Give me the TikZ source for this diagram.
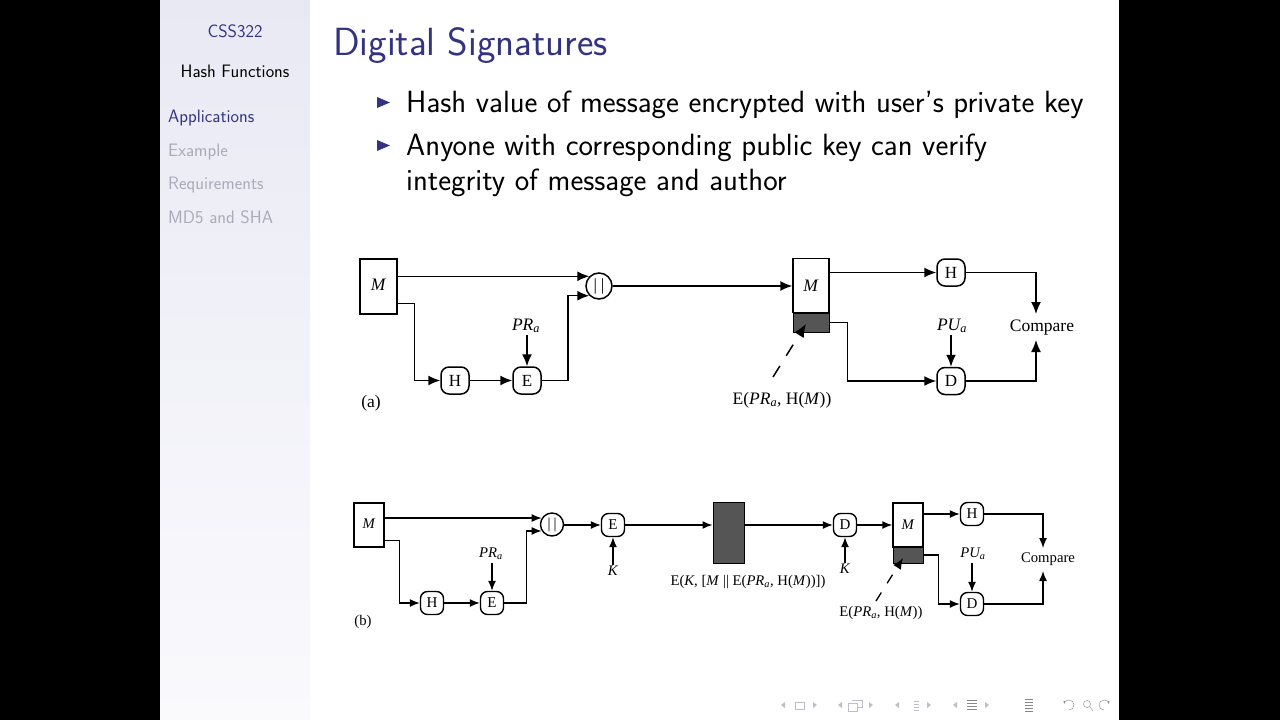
\documentclass[tikz,border=0pt]{standalone}
\usepackage{fontspec}
\usetikzlibrary{arrows.meta}
\newfontfamily\figfont{Liberation Serif}
\definecolor{navy}{RGB}{51,51,127}
\definecolor{fade}{RGB}{170,170,185}
\definecolor{sig}{RGB}{85,85,85}
\definecolor{nav}{RGB}{190,190,200}
\definecolor{sidetop}{RGB}{233,233,244}
\definecolor{sidelow}{RGB}{250,250,253}
\tikzset{
  wire/.style={line width=1.5pt,-{Latex[length=12pt,width=10pt]}},
  wireb/.style={line width=1.4pt,-{Latex[length=10pt,width=8pt]}},
  plain/.style={line width=1.5pt},
  msg/.style={draw,line width=1.4pt,fill=white,inner sep=0pt},
  sigbox/.style={draw,line width=1pt,fill=sig,inner sep=0pt},
  fnA/.style={draw,line width=1.5pt,rounded corners=8pt,minimum width=28pt,minimum height=27pt,inner sep=0pt,font=\figfont\fontsize{17}{20}\selectfont},
  fnB/.style={draw,line width=1.4pt,rounded corners=7pt,minimum width=23pt,minimum height=23pt,inner sep=0pt,font=\figfont\fontsize{15}{18}\selectfont},
  catA/.style={draw,circle,line width=1.5pt,minimum size=26pt,inner sep=0pt,font=\figfont\fontsize{17}{20}\selectfont},
  catB/.style={draw,circle,line width=1.4pt,minimum size=23pt,inner sep=0pt,font=\figfont\fontsize{15}{18}\selectfont},
  labA/.style={inner sep=0pt,font=\figfont\fontsize{17.5}{20}\selectfont},
  labB/.style={inner sep=0pt,font=\figfont\fontsize{14.7}{18}\selectfont},
  body/.style={anchor=base west,inner sep=0pt,font=\sffamily\fontsize{30.7}{36}\selectfont},
  side/.style={anchor=west,inner sep=0pt,text=fade,font=\sffamily\fontsize{18}{22}\selectfont},
  tick/.style={fill=navy},
  navtri/.style={fill=nav}
}
\begin{document}
\begin{tikzpicture}[x=1pt,y=-1pt]
  \fill[black] (0,0) rectangle (1280,720);
  \fill[white] (160,0) rectangle (1119,720);
  \shade[top color=sidetop,bottom color=sidelow] (160,0) rectangle (310,720);

  \node[inner sep=0pt,text=navy,font=\sffamily\fontsize{18}{22}\selectfont] (course) at (235,31) {CSS322};
  \node[inner sep=0pt,font=\sffamily\fontsize{18}{22}\selectfont] (topic) at (235,71) {Hash Functions};
  \node[side,text=navy] (secapp) at (168,118) {Applications};
  \node[side] (secex) at (168,152) {Example};
  \node[side] (secreq) at (168,185) {Requirements};
  \node[side] (secmd) at (168,217) {MD5 and SHA};

  \node[anchor=base west,inner sep=0pt,text=navy,font=\sffamily\fontsize{39.3}{44}\selectfont] (title) at (333,55) {Digital Signatures};
  \fill[tick] (377,97) -- (390,102.5) -- (377,108) -- cycle;
  \fill[tick] (377,140) -- (390,145.5) -- (377,151) -- cycle;
  \node[body] (lineone) at (406,112) {Hash value of message encrypted with user's private key};
  \node[body] (linetwo) at (406,155) {Anyone with corresponding public key can verify};
  \node[body] (linethree) at (406,190.5) {integrity of message and author};

  \node[msg,minimum width=37pt,minimum height=55pt,labA] (msgA) at (378.5,286.5) {\raisebox{4pt}{\textit{M}}};
  \node[fnA] (hashA) at (455,380.5) {H};
  \node[fnA] (encA) at (527,380.5) {E};
  \node[catA] (catjoinA) at (599,286) {|\hspace{4pt}|};
  \node[labA] (prA) at (526,326) {\textit{PR\textsubscript{a}}};
  \node[labA] (capA) at (371,403) {(a)};
  \node[msg,minimum width=36pt,minimum height=54pt,labA] (recvA) at (811,285.5) {\textit{M}};
  \node[sigbox,minimum width=36pt,minimum height=19pt] (signA) at (811,322.5) {};
  \node[fnA] (hashrA) at (951,272.5) {H};
  \node[fnA] (decA) at (951,381) {D};
  \node[labA] (puA) at (952,326) {\textit{PU\textsubscript{a}}};
  \node[labA] (cmpA) at (1042,328) {Compare};
  \node[labA] (sigtextA) at (782,400) {E(\textit{PR\textsubscript{a}}, H(\textit{M}))};
  \coordinate (sigtipA) at (806,324);
  \coordinate (sigfootA) at (773,377);

  \draw[wire] (msgA.east |- catjoinA.135) -- (catjoinA.135);
  \draw[wire] ([yshift=11pt]msgA.south east) -| ([xshift=17pt]msgA.south east) |- (hashA.west);
  \draw[wire] (hashA) -- (encA);
  \draw[wire] (encA.east) -- ++(26,0) |- (catjoinA.225);
  \draw[wire] (encA.north |- prA.south) ++(0,2) -- (encA.north);
  \draw[wire] (catjoinA) -- (recvA.west |- catjoinA);
  \draw[wire] (recvA.east |- hashrA) -- (hashrA);
  \draw[wire] (hashrA.east) -| (1036,314);
  \draw[wire] (signA.east) -- ++(18,0) |- (decA.west);
  \draw[wire] (decA.north |- puA.south) ++(0,2) -- (decA.north);
  \draw[wire] (decA.east) -| (1036,340);
  \draw[plain,dash pattern=on 13pt off 12pt,-{Latex[length=13pt,width=11pt]}] (sigfootA) -- (sigtipA);

  \node[msg,minimum width=30pt,minimum height=44pt,labB] (msgB) at (369,525) {\raisebox{3pt}{\textit{M}}};
  \node[fnB] (hashB) at (432,603) {H};
  \node[fnB] (encB) at (492,603) {E};
  \node[catB] (catjoinB) at (552,524.5) {|\hspace{3pt}|};
  \node[labB] (prB) at (491,554) {\textit{PR\textsubscript{a}}};
  \node[labB] (capB) at (363,622) {(b)};
  \node[fnB] (enckB) at (613,525) {E};
  \node[labB] (keyB) at (613,571) {\textit{K}};
  \node[sigbox,minimum width=31pt,minimum height=61pt] (cipher) at (728.5,532.5) {};
  \node[labB] (ciphertext) at (748,582) {E(\textit{K}, [\textit{M} || E(\textit{PR\textsubscript{a}}, H(\textit{M}))])};
  \node[fnB] (deckB) at (845,525) {D};
  \node[labB] (keyrB) at (845,569) {\textit{K}};
  \node[msg,minimum width=30pt,minimum height=44pt,labB] (recvB) at (908,525) {\textit{M}};
  \node[sigbox,minimum width=30pt,minimum height=16pt] (signB) at (908,555) {};
  \node[fnB] (hashrB) at (972,514) {H};
  \node[fnB] (decB) at (972,604) {D};
  \node[labB] (puB) at (973,554) {\textit{PU\textsubscript{a}}};
  \node[labB] (cmpB) at (1048,559) {Compare};
  \node[labB] (sigtextB) at (881,613) {E(\textit{PR\textsubscript{a}}, H(\textit{M}))};
  \coordinate (sigtipB) at (903,558);
  \coordinate (sigfootB) at (876,601);

  \draw[wireb] (msgB.east |- catjoinB.148) -- (catjoinB.148);
  \draw[wireb] ([yshift=7pt]msgB.south east) -| ([xshift=15pt]msgB.south east) |- (hashB.west);
  \draw[wireb] (hashB) -- (encB);
  \draw[wireb] (encB.east) -- ++(22.5,0) |- (catjoinB.212);
  \draw[wireb] (encB.north |- prB.south) ++(0,3) -- (encB.north);
  \draw[wireb] (catjoinB.east |- enckB) -- (enckB.west);
  \draw[wireb] (keyB.north) ++(0,-1) -- (enckB.south);
  \draw[wireb] (enckB) -- (cipher.west |- enckB);
  \draw[wireb] (cipher.east |- deckB) -- (deckB);
  \draw[wireb] (keyrB.north) ++(0,-1) -- (deckB.south);
  \draw[wireb] (deckB) -- (recvB.west |- deckB);
  \draw[wireb] (recvB.east |- hashrB) -- (hashrB);
  \draw[wireb] (hashrB.east) -| (1043,548);
  \draw[wireb] (signB.east) -- ++(15,0) |- (decB.west);
  \draw[wireb] (decB.north |- puB.south) ++(0,3) -- (decB.north);
  \draw[wireb] (decB.east) -| (1043,571);
  \draw[plain,line width=1.3pt,dash pattern=on 10pt off 11pt,-{Latex[length=11pt,width=9pt]}] (sigfootB) -- (sigtipB);

  \foreach \px in {781,838,895,953} \fill[navtri] (\px,705) -- ++(4,-3) -- ++(0,6) -- cycle;
  \foreach \px in {817,873,931,989} \fill[navtri] (\px,705) -- ++(-4,-3) -- ++(0,6) -- cycle;
  \draw[nav] (795,702) rectangle (804,709);
  \draw[nav] (848,703) rectangle (857,711);
  \draw[nav] (852,700) -- (862,700) -- (862,707) -- (857,707);
  \foreach \py in {701,704,707,710} \draw[nav] (914,\py) -- (919,\py);
  \foreach \py in {700,703,706,709} \draw[nav!70!black] (967,\py) -- (977,\py);
  \foreach \py in {699,702,705,708,711} \draw[nav!70!black] (1025,\py) -- (1033,\py);
  \draw[nav!70!black,-{Latex[length=3pt]}] (1069,710) arc (90:-170:5);
  \draw[nav!70!black] (1087,704) circle (3.5) (1090,707) -- (1093,711);
  \draw[nav!70!black,-{Latex[length=3pt]}] (1104,710) arc (90:350:5);
\end{tikzpicture}
\end{document}
